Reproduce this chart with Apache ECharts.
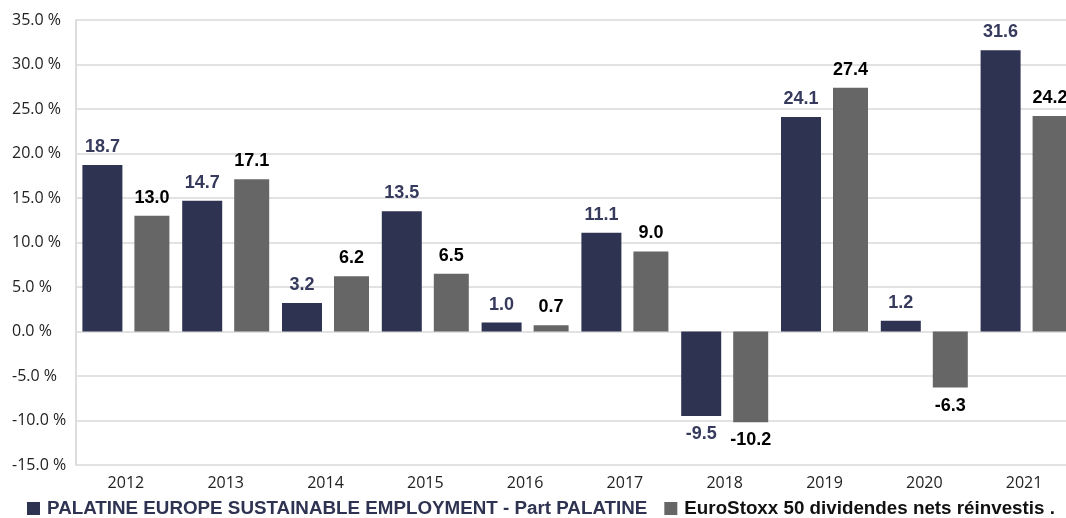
<!DOCTYPE html>
<html>
<head>
<meta charset="utf-8">
<script src="https://cdn.jsdelivr.net/npm/echarts@6/dist/echarts.min.js"></script>
<style>
  html, body { margin: 0; padding: 0; background: #fff; }
  #main { width: 1066px; height: 518px; }
</style>
</head>
<body>
<div id="main"></div>
<script>
// données
var years = ['2012', '2013', '2014', '2015', '2016', '2017', '2018', '2019', '2020', '2021'];
var fundName = 'PALATINE EUROPE SUSTAINABLE EMPLOYMENT - Part PALATINE';
var fundValues = [18.7, 14.7, 3.2, 13.5, 1.0, 11.1, -9.5, 24.1, 1.2, 31.6];
var indexName = 'EuroStoxx 50 dividendes nets réinvestis .';
var indexValues = [13.0, 17.1, 6.2, 6.5, 0.7, 9.0, -10.2, 27.4, -6.3, 24.2];

var navy = '#2f3352';
var grey = '#666666';

// label au-dessus ou en dessous selon le signe
function toItems(values) {
    return values.map(function (v) {
        return { value: v, label: { position: v < 0 ? 'bottom' : 'top' } };
    });
}

var chartDom = document.getElementById('main');
var myChart = echarts.init(chartDom);
var option;
option = {
    animation: false,
    grid: {
        left: 76,
        top: 20,
        width: 998,
        bottom: 53,
        outerBoundsMode: 'none',
        containLabel: false
    },
    legend: {
        left: 27,
        bottom: 0,
        padding: 0,
        itemWidth: 13,
        itemHeight: 13,
        itemGap: 17,
        icon: 'rect',
        textStyle: {
            fontFamily: 'Liberation Sans',
            fontWeight: 'bold',
            fontSize: 18.8,
            padding: [0, 0, 0, 2]
        },
        data: [
            { name: fundName, textStyle: { color: navy } },
            { name: indexName, textStyle: { color: '#111' } }
        ]
    },
    xAxis: {
        type: 'category',
        data: years,
        axisLine: { show: false },
        axisTick: { show: false },
        axisLabel: {
            color: '#222',
            fontFamily: 'Open Sans',
            fontSize: 16,
            margin: 10
        }
    },
    yAxis: {
        type: 'value',
        min: -15,
        max: 35,
        interval: 5,
        axisLine: { show: true, lineStyle: { color: '#dddddd', width: 2 } },
        axisTick: { show: false },
        splitLine: { lineStyle: { color: '#e2e2e2', width: 2 } },
        axisLabel: {
            color: '#222',
            fontFamily: 'Open Sans',
            fontSize: 16,
            align: 'left',
            margin: 64,
            formatter: function (v) {
                return v.toFixed(1) + ' %';
            }
        }
    },
    series: [
        {
            name: fundName,
            type: 'bar',
            barWidth: 40,
            barGap: '30%',
            itemStyle: { color: navy },
            label: {
                show: true,
                distance: 9,
                color: '#363a5c',
                fontFamily: 'Liberation Sans',
                fontWeight: 'bold',
                fontSize: 18,
                formatter: function (p) { return p.value.toFixed(1); }
            },
            data: toItems(fundValues)
        },
        {
            name: indexName,
            type: 'bar',
            barWidth: 35,
            itemStyle: { color: grey },
            label: {
                show: true,
                distance: 9,
                color: '#000',
                fontFamily: 'Liberation Sans',
                fontWeight: 'bold',
                fontSize: 18,
                formatter: function (p) { return p.value.toFixed(1); }
            },
            data: toItems(indexValues)
        }
    ]
};

option && myChart.setOption(option);
</script>
</body>
</html>
